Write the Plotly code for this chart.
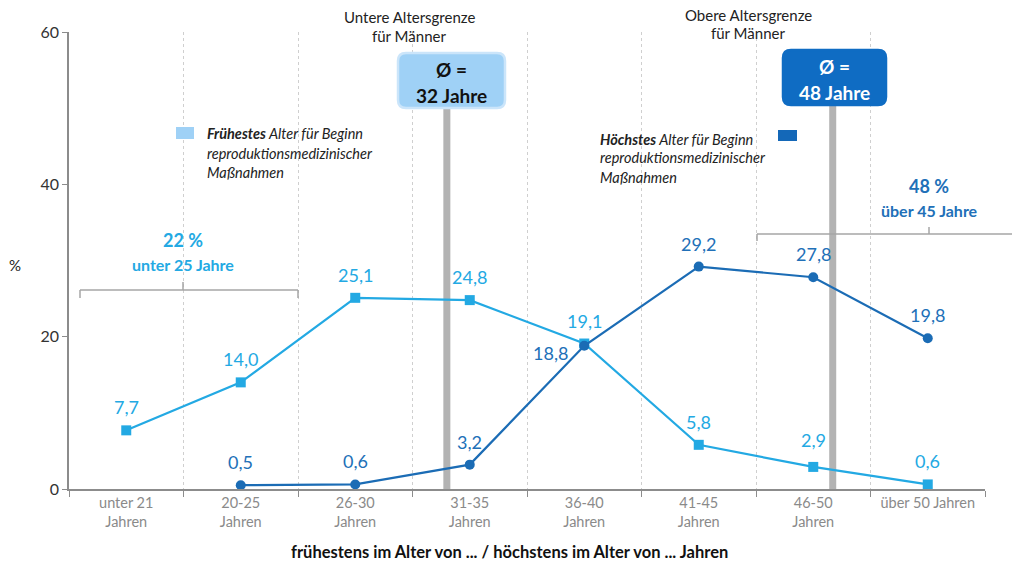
import plotly.graph_objects as go

# Altersklassen (x-Kategorien)
categories = ["unter 21<br>Jahren", "20-25<br>Jahren", "26-30<br>Jahren", "31-35<br>Jahren",
              "36-40<br>Jahren", "41-45<br>Jahren", "46-50<br>Jahren", "über 50 Jahren"]
# Frühestes Alter für Beginn reproduktionsmedizinischer Maßnahmen (%)
earliest = [7.7, 14.0, 25.1, 24.8, 19.1, 5.8, 2.9, 0.6]
# Höchstes Alter für Beginn reproduktionsmedizinischer Maßnahmen (%)
latest = [None, 0.5, 0.6, 3.2, 18.8, 29.2, 27.8, 19.8]
y_ticks = [0, 20, 40, 60]
# Durchschnittliche Altersgrenzen als Position auf der Kategorienachse
lower_limit_pos = 2.8
upper_limit_pos = 6.17

LIGHT = "#23a9e3"
DARK = "#1b6cb5"
DARK_TXT = "#2170b8"
FONT = "Lato"

W, H = 1012, 567
L, R, T, B = 69, 27, 32, 78
PW, PH = W - L - R, H - T - B


def px(x):
    return (x - L) / PW


def py(y):
    return (H - B - y) / PH


def fmt(v):
    return f"{v:.1f}".replace(".", ",")


fig = go.Figure()
fig.add_trace(go.Scatter(
    x=categories, y=earliest, mode="lines+markers", name="Frühestes",
    line=dict(color=LIGHT, width=2.2),
    marker=dict(symbol="square", size=10, color=LIGHT), cliponaxis=False))
fig.add_trace(go.Scatter(
    x=categories, y=latest, mode="lines+markers", name="Höchstes",
    line=dict(color=DARK, width=2.2),
    marker=dict(symbol="circle", size=10, color=DARK), cliponaxis=False))

annotations = []
# Datenbeschriftungen
for i, v in enumerate(earliest):
    ys = 27 if i == 6 else 23
    annotations.append(dict(x=categories[i], y=v, xref="x", yref="y", text=fmt(v),
                            showarrow=False, yshift=ys,
                            font=dict(family=FONT, size=18, color=LIGHT)))
for i, v in enumerate(latest):
    if v is None:
        continue
    xs, ys = 0, 23
    if i == 4:
        xs, ys = -34, -7
    annotations.append(dict(x=categories[i], y=v, xref="x", yref="y", text=fmt(v),
                            showarrow=False, xshift=xs, yshift=ys,
                            font=dict(family=FONT, size=18, color=DARK_TXT)))


def text(x, y, s, size=13, color="#222", anchor="center", bold=False):
    if bold:
        s = f"<b>{s}</b>"
    annotations.append(dict(x=px(x), y=py(y), xref="paper", yref="paper", text=s,
                            showarrow=False, xanchor=anchor, yanchor="middle",
                            font=dict(family=FONT, size=size, color=color)))


# Überschriften der Altersgrenzen
text(409, 17, "Untere Altersgrenze", 15, "#222")
text(409, 36, "für Männer", 15, "#222")
text(748, 15, "Obere Altersgrenze", 15, "#222")
text(748, 33, "für Männer", 15, "#222")
# Boxtexte
text(451, 70, "Ø =", 19, "#111", bold=True)
text(451, 95, "32 Jahre", 19, "#111", bold=True)
text(834, 67, "Ø =", 19, "#ffffff", bold=True)
text(834, 92, "48 Jahre", 19, "#ffffff", bold=True)
# Legenden
text(205, 133, "<b><i>Frühestes</i></b><i> Alter für Beginn</i>", 14.5, "#222", "left")
text(205, 153, "<i>reproduktionsmedizinischer</i>", 14.5, "#222", "left")
text(205, 172, "<i>Maßnahmen</i>", 14.5, "#222", "left")
text(598, 139, "<b><i>Höchstes</i></b><i> Alter für Beginn</i>", 14.5, "#222", "left")
text(598, 158, "<i>reproduktionsmedizinischer</i>", 14.5, "#222", "left")
text(598, 178, "<i>Maßnahmen</i>", 14.5, "#222", "left")
# Klammertexte
text(183, 240, "22 %", 18, LIGHT, bold=True)
text(183, 264, "unter 25 Jahre", 16, LIGHT, bold=True)
text(929, 186, "48 %", 18, DARK_TXT, bold=True)
text(929, 210, "über 45 Jahre", 16, DARK_TXT, bold=True)
# Achsentitel
text(15, 265, "%", 15, "#222")
text(509, 552, "frühestens im Alter von ... / höchstens im Alter von ... Jahren", 16.5, "#111", bold=True)

shapes = []
# Graue Balken der Durchschnittswerte
for pos in (lower_limit_pos, upper_limit_pos):
    shapes.append(dict(type="line", xref="x", yref="y", x0=pos, x1=pos, y0=0, y1=50.5,
                       line=dict(color="#b3b3b3", width=7), layer="between"))


def rounded_box(x0, y0, x1, y1, fill, line_color, r=8):
    X0, X1 = px(x0), px(x1)
    Y0, Y1 = py(y1), py(y0)
    rx, ry = r / PW, r / PH
    path = (f"M {X0+rx},{Y0} L {X1-rx},{Y0} Q {X1},{Y0} {X1},{Y0+ry} "
            f"L {X1},{Y1-ry} Q {X1},{Y1} {X1-rx},{Y1} L {X0+rx},{Y1} "
            f"Q {X0},{Y1} {X0},{Y1-ry} L {X0},{Y0+ry} Q {X0},{Y0} {X0+rx},{Y0} Z")
    shapes.append(dict(type="path", xref="paper", yref="paper", path=path,
                       fillcolor=fill, line=dict(color=line_color, width=2.5), layer="above"))


rounded_box(398, 53, 505, 108, "#9fd1f6", "#cbe5fa")
rounded_box(783, 50, 886, 105, "#0f6cc3", "#0f6cc3")

# Legendenfelder
shapes.append(dict(type="rect", xref="paper", yref="paper", x0=px(176), x1=px(194),
                   y0=py(139), y1=py(127), fillcolor="#9fd1f6", line=dict(width=0)))
shapes.append(dict(type="rect", xref="paper", yref="paper", x0=px(778), x1=px(797),
                   y0=py(141), y1=py(130), fillcolor="#1468b8", line=dict(width=0)))


def seg(x0, y0, x1, y1):
    shapes.append(dict(type="line", xref="paper", yref="paper", x0=px(x0), y0=py(y0),
                       x1=px(x1), y1=py(y1), line=dict(color="#a6a6a6", width=1.5)))


# Klammer links
seg(80, 290, 298, 290)
seg(80, 290, 80, 298)
seg(298, 290, 298, 298)
seg(183, 282, 183, 290)
# Klammer rechts
seg(757, 234, 1012, 234)
seg(757, 234, 757, 241)
seg(929, 227, 929, 234)

fig.update_layout(
    width=W, height=H,
    margin=dict(l=L, r=R, t=T, b=B),
    paper_bgcolor="white", plot_bgcolor="white",
    showlegend=False,
    font=dict(family=FONT),
    annotations=annotations,
    shapes=shapes,
    xaxis=dict(type="category", tickson="boundaries", showgrid=True, griddash="dot",
               gridcolor="#cfcfcf", gridwidth=1, ticks="outside", ticklen=6,
               tickcolor="#8c8c8c", showline=True, linecolor="#8c8c8c", linewidth=1.5,
               tickfont=dict(family=FONT, size=14.5, color="#8a8a8a"),
               range=[-0.5, 7.5], fixedrange=True),
    yaxis=dict(range=[0, 60], tickvals=y_ticks, showgrid=False, zeroline=False,
               showline=True, linecolor="#8c8c8c", linewidth=1.5, ticks="outside",
               ticklen=5, tickcolor="#8c8c8c",
               tickfont=dict(family=FONT, size=16, color="#333")),
)

fig.write_html("out.html")
